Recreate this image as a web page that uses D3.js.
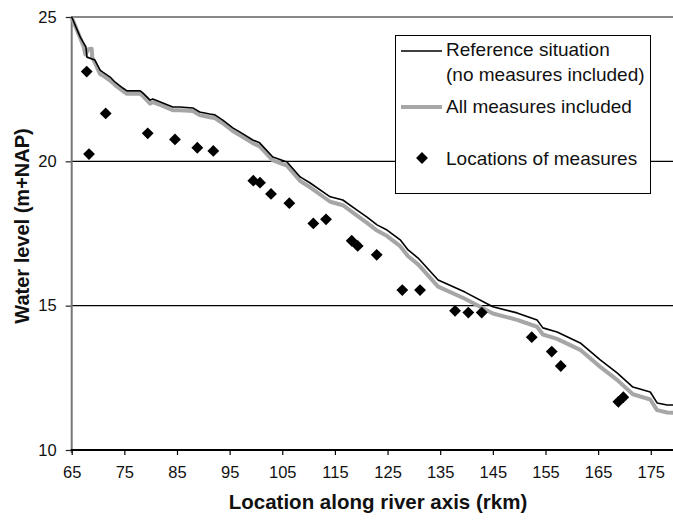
<!DOCTYPE html>
<html>
<head>
<meta charset="utf-8">
<script src="https://cdn.jsdelivr.net/npm/d3@7"></script>
<style>
  html, body { margin: 0; padding: 0; background: #fff; }
  svg { display: block; font-family: "Liberation Sans", Arial, sans-serif; }
</style>
</head>
<body>
<svg id="chart" width="673" height="524"></svg>
<script>
// ---- data ----
const refKm = [65.0, 66.6, 67.7, 67.9, 69.4, 70.4, 70.9, 72.3, 73.2, 74.7, 75.5, 78.0, 78.5, 79.9, 80.4, 82.3, 84.2, 85.5, 88.0, 89.3, 91.2, 92.2, 93.7, 95.6, 96.9, 99.4, 100.7, 103.2, 105.9, 108.4, 110.3, 114.1, 116.5, 119.2, 121.1, 123.0, 124.9, 127.4, 128.9, 130.8, 134.6, 139.7, 145.0, 149.6, 153.4, 154.5, 157.2, 161.6, 165.4, 168.6, 171.6, 174.9, 176.2, 178.1, 180.0];
const refLevel = [25.0, 24.31, 23.96, 23.61, 23.51, 23.16, 23.09, 22.92, 22.75, 22.54, 22.44, 22.44, 22.37, 22.12, 22.16, 22.02, 21.88, 21.88, 21.85, 21.71, 21.64, 21.61, 21.43, 21.16, 21.02, 20.74, 20.64, 20.15, 19.98, 19.46, 19.25, 18.77, 18.66, 18.31, 18.07, 17.80, 17.62, 17.28, 16.93, 16.65, 15.89, 15.47, 14.96, 14.75, 14.50, 14.23, 14.09, 13.71, 13.12, 12.67, 12.18, 12.01, 11.63, 11.56, 11.56];

const allKm = [65.0, 66.6, 67.3, 67.6, 68.2, 68.8, 68.9, 69.4, 70.4, 70.9, 72.3, 73.2, 74.7, 75.5, 78.0, 78.5, 79.9, 80.4, 82.3, 84.2, 85.5, 88.0, 89.3, 91.2, 92.2, 93.7, 95.6, 96.9, 99.4, 100.7, 103.2, 105.9, 108.4, 110.3, 114.1, 116.5, 119.2, 121.1, 123.0, 124.9, 127.4, 128.9, 130.8, 134.6, 139.7, 145.0, 149.6, 153.4, 154.5, 157.2, 161.6, 165.4, 168.6, 171.6, 174.9, 176.2, 178.1, 180.0];
const allLevel = [24.98, 24.28, 23.95, 23.70, 23.88, 23.90, 23.60, 23.42, 23.02, 22.98, 22.80, 22.65, 22.44, 22.34, 22.34, 22.27, 22.00, 22.05, 21.92, 21.77, 21.77, 21.74, 21.60, 21.53, 21.50, 21.32, 21.05, 20.91, 20.63, 20.52, 20.03, 19.85, 19.32, 19.10, 18.60, 18.48, 18.12, 17.87, 17.60, 17.41, 17.06, 16.71, 16.43, 15.66, 15.24, 14.73, 14.51, 14.27, 14.00, 13.85, 13.47, 12.88, 12.43, 11.93, 11.75, 11.38, 11.30, 11.28];

const measureKm = [67.85, 68.29, 71.46, 79.44, 84.62, 88.86, 91.90, 99.50, 100.77, 102.86, 106.34, 110.90, 113.31, 118.19, 119.33, 122.94, 127.80, 131.17, 137.82, 140.34, 142.89, 152.39, 156.19, 157.90, 168.84, 169.79];
const measureLevel = [23.11, 20.25, 21.66, 20.97, 20.76, 20.47, 20.36, 19.33, 19.26, 18.87, 18.55, 17.85, 17.99, 17.25, 17.07, 16.76, 15.54, 15.54, 14.82, 14.76, 14.76, 13.91, 13.41, 12.91, 11.67, 11.83];

const xTicks = [65, 75, 85, 95, 105, 115, 125, 135, 145, 155, 165, 175];
const yTicks = [10, 15, 20, 25];
const gridValues = [15, 20];
const legendLabels = ["Reference situation", "(no measures included)", "All measures included", "Locations of measures"];
const xTitle = "Location along river axis (rkm)";
const yTitle = "Water level (m+NAP)";

// ---- layout ----
const svg = d3.select("#chart");
const x = d3.scaleLinear().domain([65, 180]).range([71.7, 677.1]);
const y = d3.scaleLinear().domain([10, 25]).range([450, 17]);
const xMax = 673;

svg.append("rect").attr("width", 673).attr("height", 524).attr("fill", "#fff");

// gridlines
svg.append("g").selectAll("line").data(gridValues).join("line")
  .attr("x1", x(65)).attr("x2", xMax)
  .attr("y1", d => y(d)).attr("y2", d => y(d))
  .attr("stroke", "#000").attr("stroke-width", 1.2);

// top border line at 25
svg.append("line")
  .attr("x1", x(65)).attr("x2", xMax).attr("y1", y(25)).attr("y2", y(25))
  .attr("stroke", "#888").attr("stroke-width", 2);

// y axis
const yAxis = svg.append("g").attr("transform", `translate(${x(65)},0)`)
  .call(d3.axisLeft(y).tickValues(yTicks).tickSize(6).tickPadding(9).tickFormat(d3.format("d")));
yAxis.select(".domain").remove();
yAxis.selectAll(".tick line").attr("stroke", "#222").attr("stroke-width", 1.2);
yAxis.selectAll("text").attr("font-size", 16.5).attr("fill", "#111")
  .attr("font-family", "'Liberation Sans', Arial, sans-serif");
svg.append("line").attr("x1", x(65)).attr("x2", x(65)).attr("y1", y(25) - 1).attr("y2", 453)
  .attr("stroke", "#777").attr("stroke-width", 2);

// x axis
const xAxis = svg.append("g").attr("transform", `translate(0,${y(10)})`)
  .call(d3.axisBottom(x).tickValues(xTicks).tickSize(5).tickPadding(11).tickFormat(d3.format("d")));
xAxis.select(".domain").remove();
xAxis.selectAll(".tick line").attr("stroke", "#000").attr("stroke-width", 1.2);
xAxis.selectAll("text").attr("font-size", 16.5).attr("fill", "#111")
  .attr("font-family", "'Liberation Sans', Arial, sans-serif");
svg.append("line").attr("x1", x(65) - 1).attr("x2", xMax).attr("y1", y(10)).attr("y2", y(10))
  .attr("stroke", "#000").attr("stroke-width", 2);

// lines
const lineGen = d3.line().x(d => x(d[0])).y(d => y(d[1]));
const allData = allKm.map((k, i) => [k, allLevel[i]]);
const refData = refKm.map((k, i) => [k, refLevel[i]]);

const clip = svg.append("clipPath").attr("id", "clip").append("rect")
  .attr("x", 0).attr("y", 0).attr("width", xMax).attr("height", 524);

svg.append("path").datum(allData).attr("d", lineGen)
  .attr("fill", "none").attr("stroke", "#a6a6a6").attr("stroke-width", 4)
  .attr("stroke-linejoin", "round").attr("clip-path", "url(#clip)");
svg.append("path").datum(refData).attr("d", lineGen)
  .attr("fill", "none").attr("stroke", "#000").attr("stroke-width", 1.6)
  .attr("stroke-linejoin", "round").attr("clip-path", "url(#clip)");

// measures (diamonds)
const diamond = d3.symbol().type(d3.symbolSquare).size(70);
svg.append("g").selectAll("path").data(measureKm.map((k, i) => [k, measureLevel[i]])).join("path")
  .attr("d", diamond)
  .attr("transform", d => `translate(${x(d[0])},${y(d[1])}) rotate(45)`)
  .attr("fill", "#000");

// legend
const lg = svg.append("g");
lg.append("rect").attr("x", 395.5).attr("y", 35.5).attr("width", 255).attr("height", 158)
  .attr("fill", "#fff").attr("stroke", "#000").attr("stroke-width", 1);
lg.append("line").attr("x1", 401).attr("x2", 442).attr("y1", 51).attr("y2", 51)
  .attr("stroke", "#000").attr("stroke-width", 1.6);
lg.append("line").attr("x1", 401).attr("x2", 442).attr("y1", 107).attr("y2", 107)
  .attr("stroke", "#a6a6a6").attr("stroke-width", 4);
lg.append("path").attr("d", diamond).attr("transform", "translate(422,158) rotate(45)").attr("fill", "#000");
const legY = [56, 81, 113, 165];
lg.selectAll("text").data(legendLabels).join("text")
  .attr("x", 446).attr("y", (d, i) => legY[i])
  .attr("font-size", 19).attr("fill", "#111").text(d => d);

// titles
svg.append("text").attr("x", 378).attr("y", 509).attr("text-anchor", "middle")
  .attr("font-size", 20.5).attr("font-weight", "bold").attr("fill", "#111").text(xTitle);
svg.append("text").attr("transform", "translate(29,226) rotate(-90)").attr("text-anchor", "middle")
  .attr("font-size", 20).attr("font-weight", "bold").attr("fill", "#111").text(yTitle);
</script>
</body>
</html>
